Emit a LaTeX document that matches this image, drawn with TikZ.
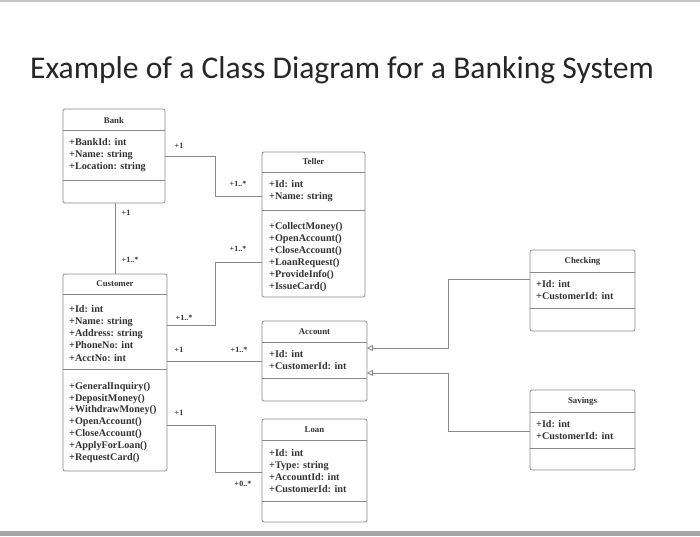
\documentclass[tikz,border=0pt]{standalone}
\usepackage{fontspec}
\setmainfont{Liberation Serif}
\newfontfamily\titlefont{Carlito}
\usetikzlibrary{arrows.meta}
\definecolor{boxgray}{HTML}{8A8A8A}
\definecolor{txtgray}{HTML}{333333}
\begin{document}
\begin{tikzpicture}[x=1pt,y=-1pt,
  classbox/.style={draw=boxgray, line width=0.8pt, rounded corners=2pt, inner sep=0pt, outer sep=0pt, anchor=north west},
  divider/.style={draw=boxgray, line width=0.8pt},
  hdr/.style={font=\fontsize{8.8}{10}\selectfont\bfseries, text=txtgray, inner sep=0pt},
  members/.style={font=\fontsize{10.2}{12.2}\selectfont\bfseries, text=txtgray, align=left, anchor=north west, inner sep=0pt},
  mult/.style={font=\fontsize{8}{9}\selectfont\bfseries, text=txtgray, inner sep=0pt},
  conn/.style={draw=boxgray, line width=0.8pt},
  gen/.style={conn, {Triangle[open, length=6pt, width=6pt]}-}
]
\useasboundingbox (0,0) rectangle (700,536);
\fill[white] (0,0) rectangle (700,536);
\draw[gray!45, line width=1.5pt] (0,0.75) -- (700,0.75);
\fill[gray!70] (0,531) rectangle (700,536);

\node[font=\titlefont\fontsize{31.6}{36}\selectfont, anchor=base west, text=black!85, inner sep=0pt] (title) at (30,78) {Example of a Class Diagram for a Banking System};

% Bank
\node[classbox, minimum width=102pt, minimum height=94pt] (bank) at (63,109) {};
\draw[divider] (bank.west |- 0,130) -- (bank.east |- 0,130);
\draw[divider] (bank.west |- 0,180) -- (bank.east |- 0,180);
\node[hdr] (bankT) at (114,120) {Bank};
\node[members] (bankA) at (69,138) {+BankId: int\\+Name: string\\+Location: string};

% Teller
\node[classbox, minimum width=103pt, minimum height=145pt] (teller) at (262,152) {};
\draw[divider] (teller.west |- 0,172) -- (teller.east |- 0,172);
\draw[divider] (teller.west |- 0,210) -- (teller.east |- 0,210);
\node[hdr] (tellerT) at (313.5,161) {Teller};
\node[members] (tellerA) at (269,180) {+Id: int\\+Name: string};
\node[members, font=\fontsize{10.2}{12}\selectfont\bfseries] (tellerM) at (269,222) {+CollectMoney()\\+OpenAccount()\\+CloseAccount()\\+LoanRequest()\\+ProvideInfo()\\+IssueCard()};

% Customer
\node[classbox, minimum width=104pt, minimum height=197pt] (customer) at (63,274) {};
\draw[divider] (customer.west |- 0,294) -- (customer.east |- 0,294);
\draw[divider] (customer.west |- 0,369) -- (customer.east |- 0,369);
\node[hdr] (customerT) at (115,284) {Customer};
\node[members] (customerA) at (69,305) {+Id: int\\+Name: string\\+Address: string\\+PhoneNo: int\\+AcctNo: int};
\node[members, font=\fontsize{10.2}{11.8}\selectfont\bfseries] (customerM) at (69,382) {+GeneralInquiry()\\+DepositMoney()\\+WithdrawMoney()\\+OpenAccount()\\+CloseAccount()\\+ApplyForLoan()\\+RequestCard()};

% Account
\node[classbox, minimum width=105pt, minimum height=80pt] (account) at (262,321) {};
\draw[divider] (account.west |- 0,342) -- (account.east |- 0,342);
\draw[divider] (account.west |- 0,378) -- (account.east |- 0,378);
\node[hdr] (accountT) at (314.5,332) {Account};
\node[members] (accountA) at (269,350) {+Id: int\\+CustomerId: int};

% Loan
\node[classbox, minimum width=105pt, minimum height=103pt] (loan) at (262,419) {};
\draw[divider] (loan.west |- 0,440) -- (loan.east |- 0,440);
\draw[divider] (loan.west |- 0,501) -- (loan.east |- 0,501);
\node[hdr] (loanT) at (314.5,430) {Loan};
\node[members] (loanA) at (269,449) {+Id: int\\+Type: string\\+AccountId: int\\+CustomerId: int};

% Checking
\node[classbox, minimum width=105pt, minimum height=81pt] (checking) at (530,250) {};
\draw[divider] (checking.west |- 0,272) -- (checking.east |- 0,272);
\draw[divider] (checking.west |- 0,308) -- (checking.east |- 0,308);
\node[hdr] (checkingT) at (582.5,261) {Checking};
\node[members] (checkingA) at (536,280) {+Id: int\\+CustomerId: int};

% Savings
\node[classbox, minimum width=105pt, minimum height=80pt] (savings) at (530,390) {};
\draw[divider] (savings.west |- 0,412) -- (savings.east |- 0,412);
\draw[divider] (savings.west |- 0,448) -- (savings.east |- 0,448);
\node[hdr] (savingsT) at (582.5,401) {Savings};
\node[members] (savingsA) at (536,420) {+Id: int\\+CustomerId: int};

% Connectors
\draw[conn] (bank.east |- 0,156) -| (215,196) -- (teller.west |- 0,196);
\draw[conn] (bank.south -| 115,0) -- (customer.north -| 115,0);
\draw[conn] (customer.east |- 0,325) -| (215,262) -- (teller.west |- 0,262);
\draw[conn] (customer.east |- 0,361) -- (account.west |- 0,361);
\draw[conn] (customer.east |- 0,425) -| (215,472) -- (loan.west |- 0,472);
\draw[gen] (account.east |- 0,348) -- (448,348) |- (checking.west |- 0,279);
\draw[gen] (account.east |- 0,373) -- (448,373) |- (savings.west |- 0,431);

% Multiplicities
\node[mult] (m1) at (179,146) {+1};
\node[mult] (m2) at (238,184) {+1..*};
\node[mult] (m3) at (126,213) {+1};
\node[mult] (m4) at (130,260) {+1..*};
\node[mult] (m5) at (184,318) {+1..*};
\node[mult] (m6) at (238,249) {+1..*};
\node[mult] (m7) at (179,350) {+1};
\node[mult] (m8) at (239,350) {+1..*};
\node[mult] (m9) at (179,413) {+1};
\node[mult] (m10) at (243,484) {+0..*};
\end{tikzpicture}
\end{document}
